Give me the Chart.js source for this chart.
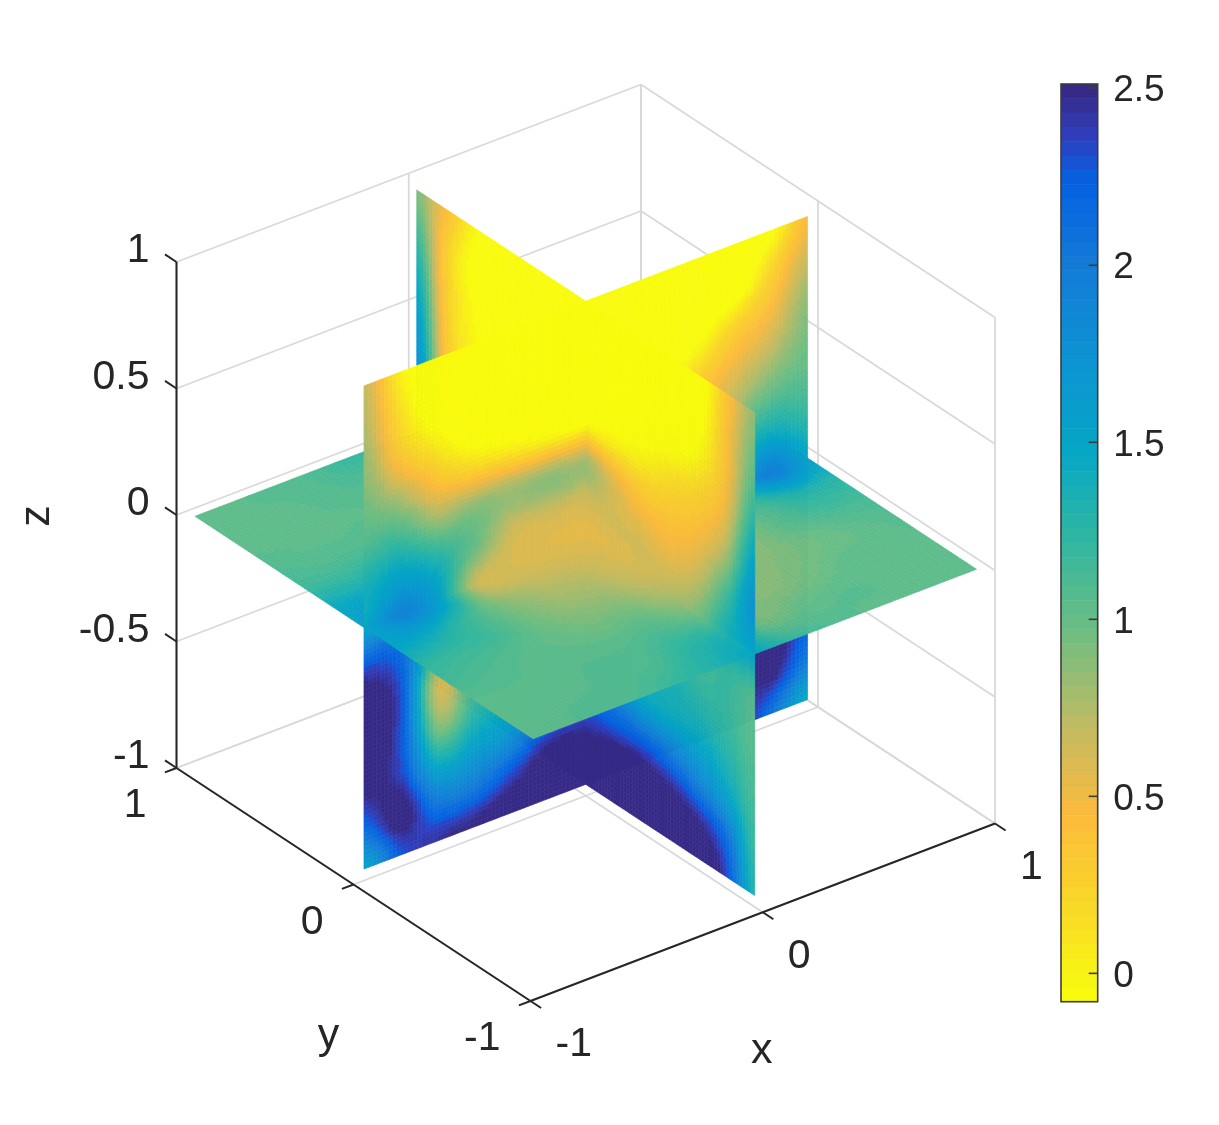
<!DOCTYPE html>
<html>
<head>
<meta charset="utf-8">
<title>slice</title>
<script src="https://cdn.jsdelivr.net/npm/chart.js@4"></script>
<style>
html, body { margin: 0; padding: 0; background: #fff; }
canvas { display: block; }
</style>
</head>
<body>
<canvas id="myChart" width="1219" height="1125"></canvas>
<script>
// slice positions along each direction (same for all three planes)
var gridPos = [-0.955, -0.796, -0.637, -0.478, -0.318, -0.159, 0, 0.159, 0.318, 0.478, 0.637, 0.796, 0.955];

// y = 0 plane, rows z = top to bottom, columns x = -0.955 to 0.955
var sliceY0 = [
  [0.7, 0.02, -0.25, -0.25, -0.25, -0.25, -0.25, -0.25, -0.25, -0.25, -0.25, -0.1, 0.45],
  [0.75, 0.15, -0.25, -0.25, -0.25, -0.25, -0.25, -0.25, -0.25, -0.25, -0.25, 0.2, 0.65],
  [0.85, 0.3, 0, -0.25, -0.25, -0.25, -0.25, -0.25, -0.25, -0.1, 0.2, 0.45, 0.85],
  [0.95, 0.7, 0.35, 0.15, 0.05, -0.05, -0.1, -0.05, 0.05, 0.25, 0.5, 0.7, 0.95],
  [1.1, 1.1, 0.8, 0.85, 0.82, 0.85, 0.8, 0.8, 0.7, 0.6, 0.75, 1, 1.05],
  [1.35, 1.5, 1.3, 1, 0.65, 0.62, 0.62, 0.7, 0.8, 1, 1.2, 1.4, 1.25],
  [1.5, 1.9, 1.55, 0.7, 0.62, 0.6, 0.6, 0.62, 0.8, 1.1, 1.5, 1.95, 1.55],
  [2.3, 2.15, 1.3, 1, 0.9, 1, 1.2, 1.3, 1.4, 1.5, 1.8, 2.1, 2],
  [2.65, 2.3, 0.68, 1.1, 1.2, 1.4, 1.6, 1.7, 1.7, 1.8, 2, 2.2, 2.1],
  [2.65, 2.3, 0.85, 1.2, 1.4, 1.6, 1.9, 1.9, 1.9, 1.95, 2, 2.3, 2.15],
  [2.55, 2.35, 1.4, 1.55, 1.7, 2.1, 2.2, 2.1, 2.1, 2.1, 2.1, 2.6, 2.2],
  [2.15, 2.6, 2, 2, 2.3, 2.6, 2.6, 2.6, 2.5, 2.4, 2.3, 2.55, 2],
  [1.5, 2.25, 2.45, 2.55, 2.7, 2.7, 2.7, 2.7, 2.7, 2.6, 2.6, 2.1, 1.45]
];

// x = 0 plane, rows z = top to bottom, columns y = 0.955 to -0.955
var sliceX0 = [
  [0.9, 0.45, 0, -0.25, -0.25, -0.25, -0.25, -0.25, -0.25, -0.25, -0.2, 0.35, 0.85],
  [1.15, 0.33, -0.1, -0.25, -0.25, -0.25, -0.25, -0.25, -0.25, -0.25, -0.15, 0.4, 0.95],
  [1.4, 0.33, -0.05, -0.25, -0.25, -0.25, -0.25, -0.25, -0.2, -0.15, 0, 0.42, 1.1],
  [1.6, 0.38, 0, -0.05, -0.05, -0.05, -0.05, 0, 0.03, 0.15, 0.27, 0.55, 1.35],
  [1.75, 0.45, 0.05, 0.1, 0.4, 0.7, 0.8, 0.55, 0.38, 0.37, 0.47, 0.8, 1.6],
  [1.8, 0.6, 0.5, 0.5, 0.6, 0.62, 0.62, 0.62, 0.6, 0.55, 0.68, 1.15, 1.75],
  [1.8, 0.8, 0.6, 0.6, 0.6, 0.6, 0.6, 0.62, 0.68, 0.78, 0.95, 1.35, 1.5],
  [1.8, 1.2, 1, 1, 1, 1.1, 1.2, 1.3, 1.2, 1.15, 1.1, 1.2, 1.1],
  [1.9, 1.5, 1.3, 1.3, 1.3, 1.4, 1.6, 1.6, 1.4, 1.35, 1.25, 1.2, 1.05],
  [2, 1.8, 1.6, 1.6, 1.7, 1.8, 1.9, 1.8, 1.5, 1.45, 1.45, 1.3, 1.1],
  [2.1, 2, 2, 2, 2.1, 2.1, 2.2, 2.2, 2.2, 2.1, 1.85, 1.55, 1.15],
  [2.4, 2.4, 2.4, 2.4, 2.5, 2.5, 2.55, 2.7, 2.7, 2.6, 2.45, 2.1, 1.2],
  [2.5, 2.5, 2.5, 2.55, 2.7, 2.7, 2.7, 2.7, 2.7, 2.7, 2.7, 2.35, 1.3]
];

// z = 0 plane, rows y = 0.955 to -0.955, columns x = -0.955 to 0.955
var sliceZ0 = [
  [1.05, 1.05, 1.07, 1.1, 1.2, 1.3, 1.8, 1.3, 1.2, 1.1, 1.05, 1.05, 1.05],
  [1.05, 1.05, 1.05, 1.08, 1.1, 1, 0.8, 1.1, 1.1, 1.05, 1.05, 1.05, 1.05],
  [1.05, 1.05, 1.05, 1.05, 1.05, 0.9, 0.6, 0.9, 1, 1.05, 1.05, 1.05, 1.05],
  [1.1, 1.07, 1.07, 1.05, 0.9, 0.7, 0.6, 0.8, 0.95, 1, 1.05, 1.05, 1.05],
  [1.2, 1.2, 1.2, 1, 0.8, 0.62, 0.6, 0.7, 0.9, 1, 1.1, 1.2, 1.2],
  [1.45, 1.5, 1.35, 0.9, 0.68, 0.6, 0.6, 0.62, 0.8, 1, 1.3, 1.6, 1.4],
  [1.5, 1.9, 1.55, 0.7, 0.62, 0.6, 0.6, 0.62, 0.8, 1.1, 1.5, 1.95, 1.55],
  [1.5, 1.45, 1.2, 0.9, 0.75, 0.7, 0.62, 0.65, 0.75, 0.95, 1.15, 1.35, 1.3],
  [1.25, 1.2, 1.15, 0.97, 0.85, 0.8, 0.68, 0.7, 0.75, 0.9, 1.05, 1.15, 1.15],
  [1.15, 1.1, 1.05, 1, 0.95, 0.95, 0.8, 0.8, 0.85, 0.9, 0.97, 1.03, 1.08],
  [1.05, 1.05, 1.05, 1.05, 1.05, 1.1, 1, 0.9, 0.88, 0.95, 1.03, 1.03, 1.05],
  [1.05, 1.05, 1.05, 1.07, 1.1, 1.25, 1.3, 0.95, 1, 1.05, 1.05, 1.03, 1.05],
  [1.05, 1.05, 1.08, 1.1, 1.2, 1.3, 1.45, 1.2, 1.1, 1.05, 1.05, 1.05, 1.05]
];

var xTicks = [-1, 0, 1];
var yTicks = [-1, 0, 1];
var zTicks = [-1, -0.5, 0, 0.5, 1];
var barTicks = [0, 0.5, 1, 1.5, 2, 2.5];
var barMin = -0.08;
var barMax = 2.512;

// colour stops, reversed parula: [position from top of the bar, r, g, b]
var colorStops = [
  [0, 53, 42, 135], [0.05, 48, 62, 190], [0.1, 5, 97, 225], [0.2, 20, 125, 215],
  [0.3, 12, 148, 210], [0.4, 6, 167, 197], [0.5, 50, 183, 160], [0.6, 112, 190, 130],
  [0.7, 190, 187, 100], [0.8, 252, 187, 60], [0.9, 249, 215, 40], [1, 249, 251, 14]
];
var colorLevels = 64;

// view of the 3D box, in scale units
var viewX = [232.25, -177, 0];
var viewY = [88.75, 116.5, 253];

function project(x, y, z) {
  return {
    x: viewX[0] * x + viewX[1] * y + viewX[2] * z,
    y: viewY[0] * x + viewY[1] * y + viewY[2] * z
  };
}

// build the level table once
var levelColors = [];
for (var lv = 0; lv < colorLevels; lv++) {
  var t = lv / (colorLevels - 1);
  var s = 0;
  while (s < colorStops.length - 2 && colorStops[s + 1][0] < t) s++;
  var a = colorStops[s], b = colorStops[s + 1];
  var f = (t - a[0]) / (b[0] - a[0]);
  levelColors.push('rgb(' + Math.round(a[1] + (b[1] - a[1]) * f) + ',' +
    Math.round(a[2] + (b[2] - a[2]) * f) + ',' + Math.round(a[3] + (b[3] - a[3]) * f) + ')');
}

function colorFor(v) {
  var t = (barMax - v) / (barMax - barMin);
  var idx = Math.floor(t * colorLevels);
  return levelColors[Math.max(0, Math.min(colorLevels - 1, idx))];
}

// line datasets for the box, first dataset ends up on top
var lineSets = [];
function addLine(p, q, color, width) {
  lineSets.push({
    data: [project(p[0], p[1], p[2]), project(q[0], q[1], q[2])],
    showLine: true, pointRadius: 0, borderColor: color, borderWidth: width, clip: false
  });
}
var axisColor = '#262626';
addLine([-1, 1, -1], [-1, 1, 1], axisColor, 2);
addLine([-1, 1, -1], [-1, -1, -1], axisColor, 2);
addLine([-1, -1, -1], [1, -1, -1], axisColor, 2);
zTicks.forEach(function (z) { addLine([-1, 1, z], [-1, 1.065, z], axisColor, 2); });
yTicks.forEach(function (y) { addLine([-1, y, -1], [-1.05, y, -1], axisColor, 2); });
xTicks.forEach(function (x) { addLine([x, -1, -1], [x, -1.06, -1], axisColor, 2); });
var gridColor = '#d9d9d9';
zTicks.forEach(function (z) {
  addLine([-1, 1, z], [1, 1, z], gridColor, 1.8);
  addLine([1, 1, z], [1, -1, z], gridColor, 1.8);
});
xTicks.forEach(function (x) {
  addLine([x, 1, -1], [x, 1, 1], gridColor, 1.8);
  addLine([x, -1, -1], [x, 1, -1], gridColor, 1.8);
});
yTicks.forEach(function (y) {
  addLine([1, y, -1], [1, y, 1], gridColor, 1.8);
  addLine([-1, y, -1], [1, y, -1], gridColor, 1.8);
});

function catmull(p0, p1, p2, p3, u) {
  return 0.5 * (2 * p1 + (p2 - p0) * u + (2 * p0 - 5 * p1 + 4 * p2 - p3) * u * u + (3 * p1 - p0 - 3 * p2 + p3) * u * u * u);
}

// smooth shading between the table values, like shading interp
function shade(table, r, c, fr, fc) {
  var n = table.length - 1;
  var vals = [];
  for (var dr = -1; dr <= 2; dr++) {
    var row = table[Math.max(0, Math.min(n, r + dr))];
    vals.push(catmull(row[Math.max(0, c - 1)], row[c], row[c + 1], row[Math.min(n, c + 2)], fc));
  }
  return catmull(vals[0], vals[1], vals[2], vals[3], fr);
}

// one plane: get3d maps (col value, row value) to a 3D point
function drawCells(ctx, chart, table, get3d, colFrom, colTo, rowFrom, rowTo, rowValues, colValues) {
  var xScale = chart.scales.x, yScale = chart.scales.y;
  var sub = 9;
  function toPixel(u, w) {
    var p3 = get3d(u, w);
    var p = project(p3[0], p3[1], p3[2]);
    return [xScale.getPixelForValue(p.x), yScale.getPixelForValue(p.y)];
  }
  for (var r = rowFrom; r < rowTo; r++) {
    for (var c = colFrom; c < colTo; c++) {
      for (var i = 0; i < sub; i++) {
        for (var j = 0; j < sub; j++) {
          var val = shade(table, r, c, (j + 0.5) / sub, (i + 0.5) / sub);
          var u0 = colValues[c] + (colValues[c + 1] - colValues[c]) * i / sub;
          var u1 = colValues[c] + (colValues[c + 1] - colValues[c]) * (i + 1) / sub;
          var w0 = rowValues[r] + (rowValues[r + 1] - rowValues[r]) * j / sub;
          var w1 = rowValues[r] + (rowValues[r + 1] - rowValues[r]) * (j + 1) / sub;
          var p1 = toPixel(u0, w0), p2 = toPixel(u1, w0), p3 = toPixel(u1, w1), p4 = toPixel(u0, w1);
          var col = colorFor(val);
          ctx.fillStyle = col;
          ctx.strokeStyle = col;
          ctx.beginPath();
          ctx.moveTo(p1[0], p1[1]);
          ctx.lineTo(p2[0], p2[1]);
          ctx.lineTo(p3[0], p3[1]);
          ctx.lineTo(p4[0], p4[1]);
          ctx.closePath();
          ctx.fill();
          ctx.stroke();
        }
      }
    }
  }
}

var slicePlugin = {
  id: 'slices',
  afterDatasetsDraw: function (chart) {
    var ctx = chart.ctx;
    var rowsDown = gridPos.slice().reverse();
    var colsX = gridPos;
    var colsY = gridPos.slice().reverse();
    var onY0 = function (u, w) { return [u, 0, w]; };
    var onX0 = function (u, w) { return [0, u, w]; };
    var onZ0 = function (u, w) { return [u, w, 0]; };

    ctx.save();
    ctx.lineWidth = 0.6;
    // back to front for a camera at x<0, y<0, z>0
    drawCells(ctx, chart, sliceZ0, onZ0, 6, 12, 0, 6, rowsDown, colsX);
    drawCells(ctx, chart, sliceY0, onY0, 6, 12, 0, 12, rowsDown, colsX);
    drawCells(ctx, chart, sliceZ0, onZ0, 6, 12, 6, 12, rowsDown, colsX);
    drawCells(ctx, chart, sliceX0, onX0, 0, 12, 0, 12, rowsDown, colsY);
    drawCells(ctx, chart, sliceZ0, onZ0, 0, 6, 0, 6, rowsDown, colsX);
    drawCells(ctx, chart, sliceY0, onY0, 0, 6, 0, 12, rowsDown, colsX);
    drawCells(ctx, chart, sliceZ0, onZ0, 0, 6, 6, 12, rowsDown, colsX);
    ctx.restore();

    // colour bar
    var bar = chart.scales.bar;
    var left = 1061, right = bar.left;
    ctx.save();
    for (var i = 0; i < colorLevels; i++) {
      var hi = barMax - (barMax - barMin) * i / colorLevels;
      var lo = barMax - (barMax - barMin) * (i + 1) / colorLevels;
      var top = bar.getPixelForValue(hi), bottom = bar.getPixelForValue(lo);
      ctx.fillStyle = levelColors[i];
      ctx.fillRect(left, top, right - left, bottom - top + 0.5);
    }
    ctx.strokeStyle = '#3c3c3c';
    ctx.lineWidth = 1.6;
    ctx.strokeRect(left, bar.top, right - left, bar.bottom - bar.top);
    barTicks.forEach(function (v) {
      var y = bar.getPixelForValue(v);
      ctx.beginPath();
      ctx.moveTo(right - 9, y);
      ctx.lineTo(right, y);
      ctx.stroke();
    });
    ctx.restore();

    // 3D tick labels and axis names
    var xs = chart.scales.x, ys = chart.scales.y;
    function labelAt(p3, text, dx, dy, align) {
      var p = project(p3[0], p3[1], p3[2]);
      ctx.textAlign = align;
      ctx.fillText(text, xs.getPixelForValue(p.x) + dx, ys.getPixelForValue(p.y) + dy);
    }
    ctx.save();
    ctx.fillStyle = '#262626';
    ctx.textBaseline = 'middle';
    ctx.font = '41px "Liberation Sans"';
    zTicks.forEach(function (z) { labelAt([-1, 1, z], String(z), -27, -11, 'right'); });
    yTicks.forEach(function (y) { labelAt([-1, y, -1], String(y), -30, 38, 'right'); });
    xTicks.forEach(function (x) { labelAt([x, -1, -1], String(x), 25, 44, 'left'); });
    ctx.font = '43px "Liberation Sans"';
    labelAt([0, -1, -1], 'x', -1, 139, 'center');
    labelAt([-1, 0, -1], 'y', -25, 152, 'center');
    ctx.save();
    ctx.translate(37, 516);
    ctx.rotate(-Math.PI / 2);
    ctx.textAlign = 'center';
    ctx.fillText('z', 0, 0);
    ctx.restore();
    ctx.restore();
  }
};

document.addEventListener('DOMContentLoaded', function () {
  var ctx = document.getElementById('myChart').getContext('2d');
  new Chart(ctx, {
    type: 'scatter',
    data: { datasets: lineSets },
    options: {
      responsive: false,
      animation: false,
      layout: { padding: { top: 84, bottom: 123.3, left: 0, right: 0 } },
      plugins: { legend: { display: false }, tooltip: { enabled: false } },
      scales: {
        x: { type: 'linear', display: false, min: -585.75, max: 511.95 },
        y: { type: 'linear', display: false, min: -458.95, max: 458.75 },
        bar: {
          type: 'linear',
          position: 'right',
          min: barMin,
          max: barMax,
          grid: { display: false, drawTicks: false },
          border: { display: false },
          afterBuildTicks: function (axis) {
            axis.ticks = barTicks.map(function (v) { return { value: v }; });
          },
          afterFit: function (axis) { axis.width = 121.3; },
          ticks: {
            padding: 15.5,
            labelOffset: 3,
            color: '#262626',
            font: { family: '"Liberation Sans"', size: 37 },
            callback: function (v) { return String(v); }
          }
        }
      }
    },
    plugins: [slicePlugin]
  });
});
</script>
</body>
</html>
